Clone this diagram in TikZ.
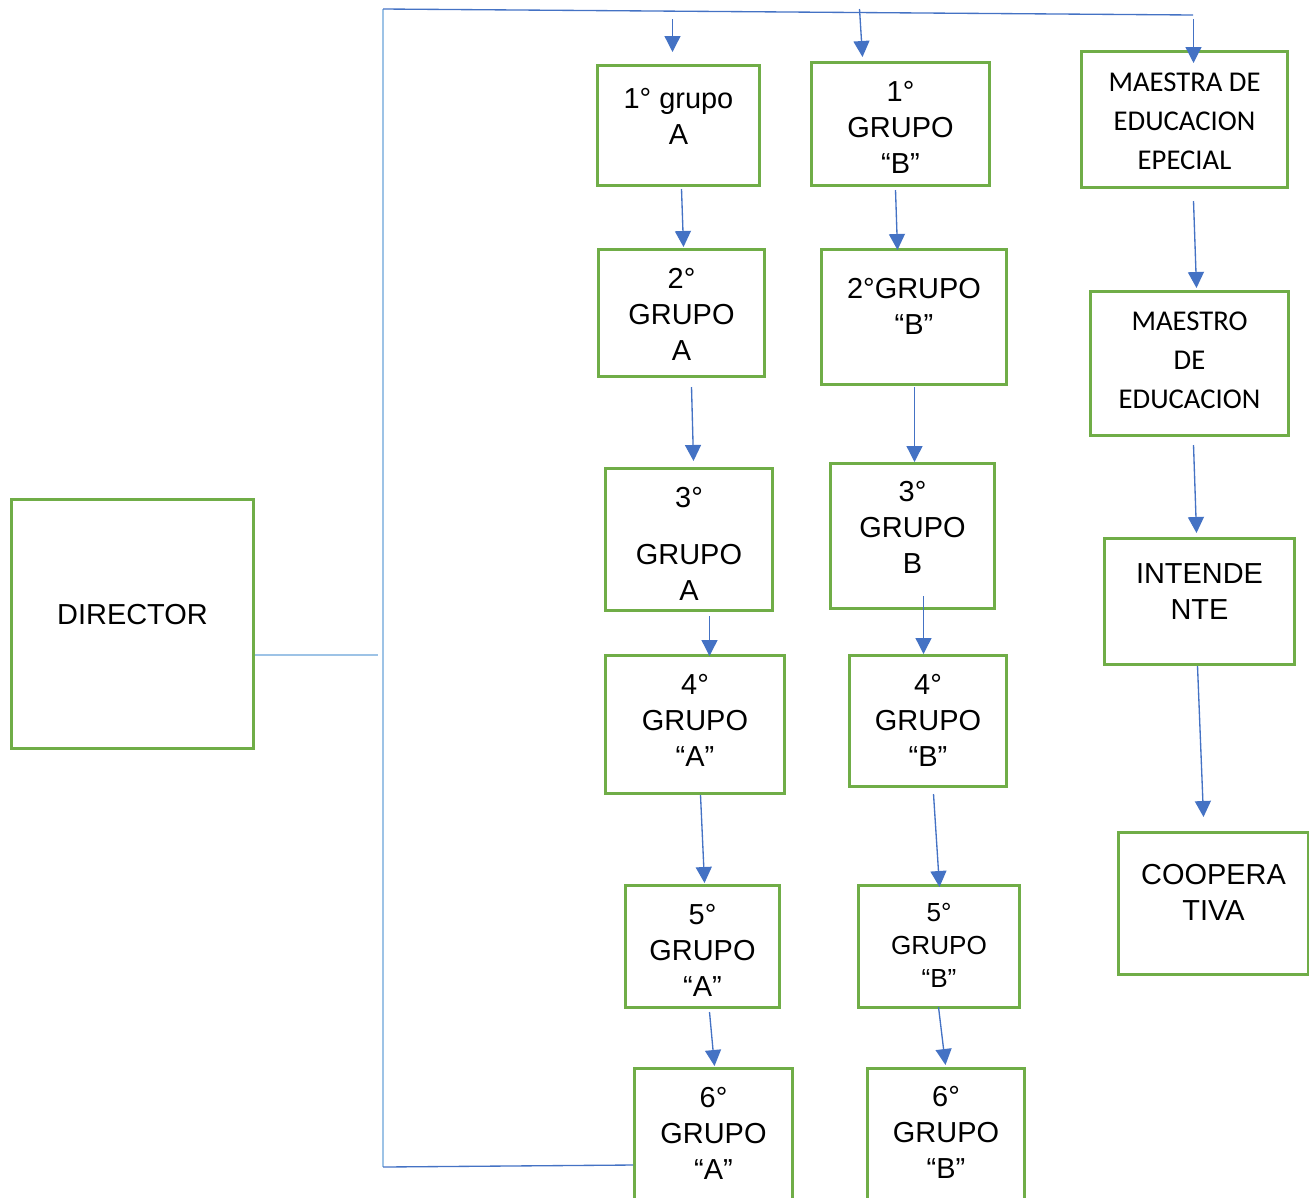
\documentclass[tikz,border=0pt]{standalone}
\usepackage{fontspec}
\setmainfont{Liberation Sans}
\newfontfamily\calibri{Carlito}
\usetikzlibrary{arrows.meta}
\definecolor{boxgreen}{HTML}{70AD47}
\definecolor{arrowblue}{HTML}{4472C4}
\definecolor{spineblue}{HTML}{9DC3E6}
\newlength{\pixunit}\setlength{\pixunit}{0.75pt}
% box text: width, height, first baseline (px), lines
\newcommand{\boxtext}[4]{\parbox[c][#2\pixunit][t]{#1\pixunit}{\centering\rule{0pt}{#3\pixunit}#4}}

\begin{document}
\begin{tikzpicture}[x=0.75pt, y=-0.75pt, font=\fontsize{21.7}{27}\selectfont, line/.style={arrowblue, line width=1pt, -{Triangle[width=12pt,length=12pt]}}, spine/.style={spineblue, line width=1.4pt}, rail/.style={arrowblue, line width=1pt}, block/.style={draw=boxgreen, line width=2.25pt, inner sep=0pt, anchor=north west}, calib/.style={font=\calibri\fontsize{21.5}{29.25}\selectfont}]
\useasboundingbox (0,0) rectangle (1309,1197);
\node[block] (dir) at (10,498) {\boxtext{242}{249}{125}{DIRECTOR}};
% first column
\node[block] (a1) at (596,64) {\boxtext{162}{120}{43}{1° grupo\\A}};
\node[block] (a2) at (597,248) {\boxtext{166}{127}{39}{2°\\GRUPO\\A}};
\node[block] (a3) at (604,467) {\boxtext{167}{142}{39}{3°\\[16pt]GRUPO\\A}};
\node[block] (a4) at (604,654) {\boxtext{179}{138}{39}{4°\\GRUPO\\“A”}};
\node[block] (a5) at (624,884) {\boxtext{154}{122}{39}{5°\\GRUPO\\“A”}};
\node[block] (a6) at (633,1067) {\boxtext{158}{145}{39}{6°\\GRUPO\\“A”}};
% second column
\node[block] (b1) at (810,61) {\boxtext{178}{123}{39}{1°\\GRUPO\\“B”}};
\node[block] (b2) at (820,248) {\boxtext{185}{135}{49}{2°GRUPO\\“B”}};
\node[block] (b3) at (829,462) {\boxtext{164}{145}{38}{3°\\GRUPO\\B}};
\node[block] (b4) at (848,654) {\boxtext{157}{131}{39}{4°\\GRUPO\\“B”}};
\node[block,font=\fontsize{19.6}{24.75}\selectfont] (b5) at (857,884) {\boxtext{161}{122}{36}{5°\\GRUPO\\“B”}};
\node[block] (b6) at (866,1067) {\boxtext{157}{145}{38}{6°\\GRUPO\\“B”}};
% third column
\node[block,calib] (c1) at (1080,50) {\boxtext{206}{136}{40}{MAESTRA DE\\EDUCACION\\EPECIAL}};
\node[block,calib] (c2) at (1089,290) {\boxtext{198}{144}{39}{MAESTRO\\DE\\EDUCACION}};
\node[block] (c3) at (1103,537) {\boxtext{190}{126}{45}{INTENDE\\NTE}};
\node[block] (c4) at (1117,831) {\boxtext{190}{142}{52}{COOPERA\\TIVA}};
% frame lines
\coordinate (sptop) at (383,9);
\coordinate (spbot) at (383,1167);
\coordinate (spright) at (1193,15);
\coordinate (dirend) at (378,655);
\draw[spine] (dir.east |- dirend) -- (dirend);
\draw[spine] (sptop) -- (spbot);
\draw[rail] (sptop) -- (spright);
\draw[rail] (spbot) -- ([shift={(0,98)}]a6.north west);
\draw[line] ([shift={(-6,-45)}]a1.north) -- ([shift={(-6,-12)}]a1.north);
\draw[line] ([shift={(-41,-52)}]b1.north) -- ([shift={(-38,-4)}]b1.north);
\draw[line] ([shift={(9,-31)}]c1.north) -- ([shift={(9,13)}]c1.north);
% chains
\draw[line] ([shift={(3,2)}]a1.south) -- ([shift={(2,-1)}]a2.north);
\draw[line] ([shift={(10,9)}]a2.south) -- ([shift={(4.5,-6)}]a3.north);
\draw[line] ([shift={(20.5,4)}]a3.south) -- ([shift={(14.5,2)}]a4.north);
\draw[line] ([shift={(5.5,0)}]a4.south) -- ([shift={(2,-1)}]a5.north);
\draw[line] ([shift={(7,3)}]a5.south) -- ([shift={(1,-1)}]a6.north);
\draw[line] ([shift={(-5,3)}]b1.south) -- ([shift={(-16.5,2)}]b2.north);
\draw[line] ([shift={(0.5,1)}]b2.south) -- ([shift={(2,0)}]b3.north);
\draw[line] ([shift={(11,-14)}]b3.south) -- ([shift={(-4.5,0)}]b4.north);
\draw[line] ([shift={(5.5,6)}]b4.south) -- ([shift={(0.5,3)}]b5.north);
\draw[line] ([shift={(-0.5,-2)}]b5.south) -- ([shift={(-0.5,-2)}]b6.north);
\draw[line] ([shift={(9,12)}]c1.south) -- ([shift={(7,-2)}]c2.north);
\draw[line] ([shift={(4,8)}]c2.south) -- ([shift={(-3,-4)}]c3.north);
\draw[line] ([shift={(-2,0)}]c3.south) -- ([shift={(-10,-14)}]c4.north);
\end{tikzpicture}
\end{document}
